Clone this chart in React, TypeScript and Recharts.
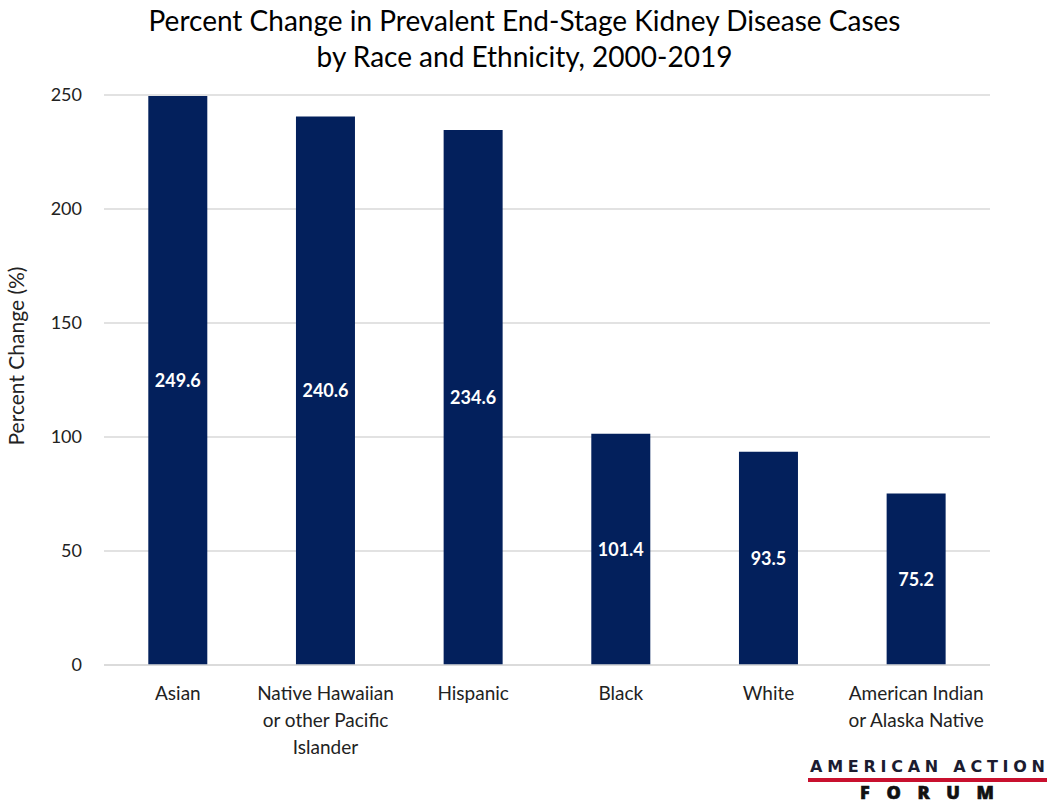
import React from "react";
import { BarChart, Bar, XAxis, YAxis, CartesianGrid, LabelList } from "recharts";

const categories = ["Asian", "Native Hawaiian or other Pacific Islander", "Hispanic", "Black", "White", "American Indian or Alaska Native"];
const categoryLines: string[][] = [
  ["Asian"],
  ["Native Hawaiian", "or other Pacific", "Islander"],
  ["Hispanic"],
  ["Black"],
  ["White"],
  ["American Indian", "or Alaska Native"],
];
const values = [249.6, 240.6, 234.6, 101.4, 93.5, 75.2];
const yTicks = [0, 50, 100, 150, 200, 250];

const data = categories.map((c, i) => ({ name: c, value: values[i] }));

const FONT = "Lato, 'Open Sans', sans-serif";
const NAVY = "#03205c";

const XTick = (props: any) => {
  const { x, y, payload, index } = props;
  const lines = categoryLines[index] || [payload.value];
  return (
    <g transform={`translate(${x},${y})`}>
      <text textAnchor="middle" fontFamily={FONT} fontSize={19} fill="#222">
        {lines.map((l, i) => (
          <tspan key={i} x={0} dy={27}>{l}</tspan>
        ))}
      </text>
    </g>
  );
};

export default function App() {
  return (
    <div style={{ position: "relative", width: 1049, height: 805, background: "#fff", fontFamily: FONT, overflow: "hidden" }}>
      <style>{`html,body{margin:0;padding:0;}`}</style>
      <div style={{ position: "absolute", left: 0, top: 2, width: 1049, textAlign: "center", fontSize: 28, lineHeight: "36px", color: "#000" }}>
        Percent Change in Prevalent End-Stage Kidney Disease Cases
        <br />
        by Race and Ethnicity, 2000-2019
      </div>
      <BarChart
        width={1049}
        height={805}
        data={data}
        margin={{ top: 95, right: 59, bottom: 110, left: 0 }}
        barCategoryGap="30%"
      >
        <CartesianGrid vertical={false} stroke="#d9d9d9" strokeWidth={1.5} />
        <XAxis
          dataKey="name"
          height={30}
          axisLine={{ stroke: "#d9d9d9", strokeWidth: 1.5 }}
          tickLine={false}
          tick={<XTick />}
          interval={0}
        />
        <YAxis
          width={104}
          domain={[0, 250]}
          ticks={yTicks}
          axisLine={false}
          tickLine={false}
          tickMargin={16}
          tick={{ fontFamily: FONT, fontSize: 18, fill: "#222" }}
          label={{ value: "Percent Change (%)", angle: -90, position: "insideLeft", dx: 12, dy: -24, style: { textAnchor: "middle", fontFamily: FONT, fontSize: 21, fill: "#222" } }}
        />
        <Bar dataKey="value" fill={NAVY} isAnimationActive={false}>
          <LabelList dataKey="value" position="center" fill="#fff" fontFamily={FONT} fontSize={18} fontWeight="bold" formatter={(v: any) => Number(v).toFixed(1)} />
        </Bar>
      </BarChart>
      <svg style={{ position: "absolute", left: 800, top: 748 }} width={249} height={57}>
        <text x={10} y={24} textLength={235} lengthAdjust="spacing" fontFamily="'DejaVu Sans', sans-serif" fontWeight={700} fontSize={16} fill="#1c1c30">AMERICAN ACTION</text>
        <rect x={8} y={30} width={239} height={4} fill="#c8102e" />
        <text x={60} y={51} textLength={134} lengthAdjust="spacing" fontFamily="'Open Sans', 'DejaVu Sans', sans-serif" fontWeight={800} fontSize={18} fill="#111" stroke="#111" strokeWidth={0.6}>FORUM</text>
      </svg>
    </div>
  );
}
